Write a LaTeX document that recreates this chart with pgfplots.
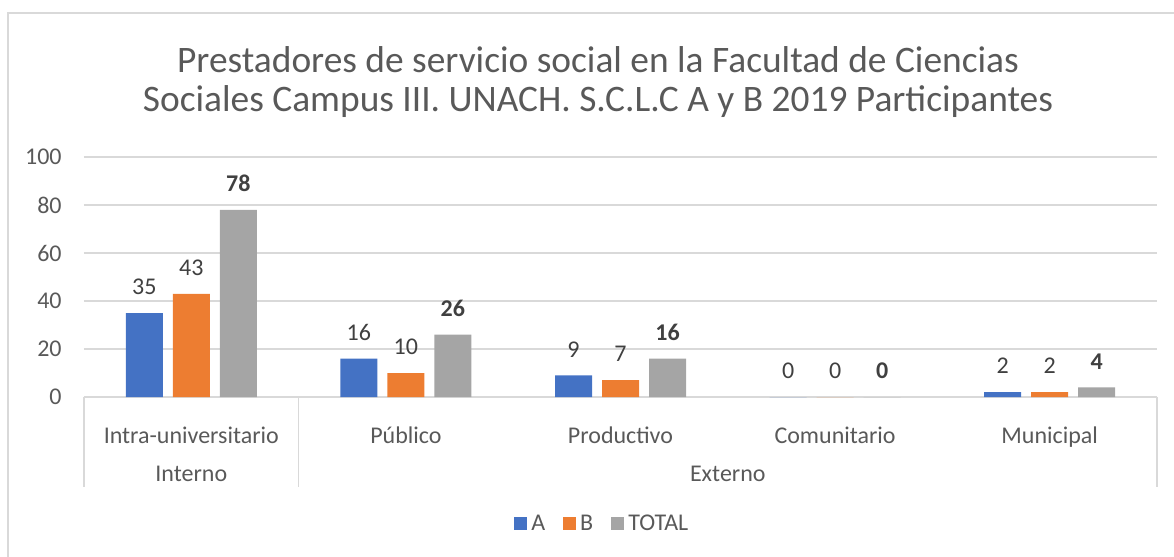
\documentclass[border=0pt]{standalone}
\usepackage{fontspec}
\setmainfont{Carlito}
\usepackage{pgfplots}
\pgfplotsset{compat=1.18}
\definecolor{serA}{HTML}{4472C4}
\definecolor{serB}{HTML}{ED7D31}
\definecolor{serT}{HTML}{A5A5A5}
\definecolor{txt}{HTML}{595959}
\definecolor{lbl}{HTML}{404040}
\definecolor{gridc}{HTML}{D9D9D9}
\begin{document}
\begin{tikzpicture}
% 1 px of the reference = 0.5pt; axis origin at pixel (84,397)
\path[use as bounding box] (-42pt,-80pt) rectangle (545pt,198.5pt);
\draw[gridc, line width=1pt] (-38pt,-80pt) -- (-38pt,191.75pt) -- (545pt,191.75pt);
\node[txt, font=\fontsize{18.7}{20}\selectfont] at (257pt,168.5pt) {Prestadores de servicio social en la Facultad de Ciencias};
\node[txt, font=\fontsize{18.7}{20}\selectfont] at (257pt,147.5pt) {Sociales Campus III. UNACH. S.C.L.C A y B 2019 Participantes};
\begin{axis}[
  at={(0,0)}, anchor=south west,
  scale only axis,
  width=536.5pt, height=120pt,
  ybar=5pt, bar width=18.5pt,
  xmin=0.5, xmax=5.5, ymin=0, ymax=100,
  xtick={1,2,3,4,5},
  xticklabels={Intra-universitario, Público, Productivo, Comunitario, Municipal},
  ytick={0,20,...,100},
  ymajorgrids, grid style={draw=gridc, line width=0.75pt},
  axis line style={draw=none},
  major tick style={draw=none},
  /pgf/number format/assume math mode=true,
  tick label style={txt, font=\fontsize{12}{14}\selectfont},
  xticklabel style={anchor=base, inner sep=0pt, yshift=-19pt},
  yticklabel style={anchor=east, inner sep=0pt, xshift=-11pt},
  nodes near coords,
  every node near coord/.append style={lbl, anchor=south, inner sep=0pt, yshift=9pt, font=\fontsize{12}{14}\selectfont},
  legend style={at={(0.484,-0.529)}, anchor=center, draw=none, fill=none,
    legend columns=3, font=\fontsize{12}{14}\selectfont, text=txt,
    /tikz/every even column/.append style={column sep=7pt}},
  legend image code/.code={\fill[#1] (0pt,-3.25pt) rectangle (6.5pt,3.25pt);},
  clip=false,
]
\addplot[fill=serA, draw=none] coordinates {(1,35) (2,16) (3,9) (4,0) (5,2)};
\addplot[fill=serB, draw=none] coordinates {(1,43) (2,10) (3,7) (4,0) (5,2)};
\addplot[fill=serT, draw=none, every node near coord/.append style={font=\fontsize{12}{14}\selectfont\bfseries}] coordinates {(1,78) (2,26) (3,16) (4,0) (5,4)};
\legend{A, B, TOTAL}
\draw[draw=gridc, line width=0.75pt] (axis cs:0.5,0) -- ++(0pt,-45pt);
\draw[draw=gridc, line width=0.75pt] (axis cs:1.5,0) -- ++(0pt,-45pt);
\draw[draw=gridc, line width=0.75pt] (axis cs:5.5,0) -- ++(0pt,-45pt);
\node[txt, anchor=base, inner sep=0pt, font=\fontsize{12}{14}\selectfont] at ([yshift=-42pt]axis cs:1,0) {Interno};
\node[txt, anchor=base, inner sep=0pt, font=\fontsize{12}{14}\selectfont] at ([yshift=-42pt]axis cs:3.5,0) {Externo};
\end{axis}
\end{tikzpicture}
\end{document}
